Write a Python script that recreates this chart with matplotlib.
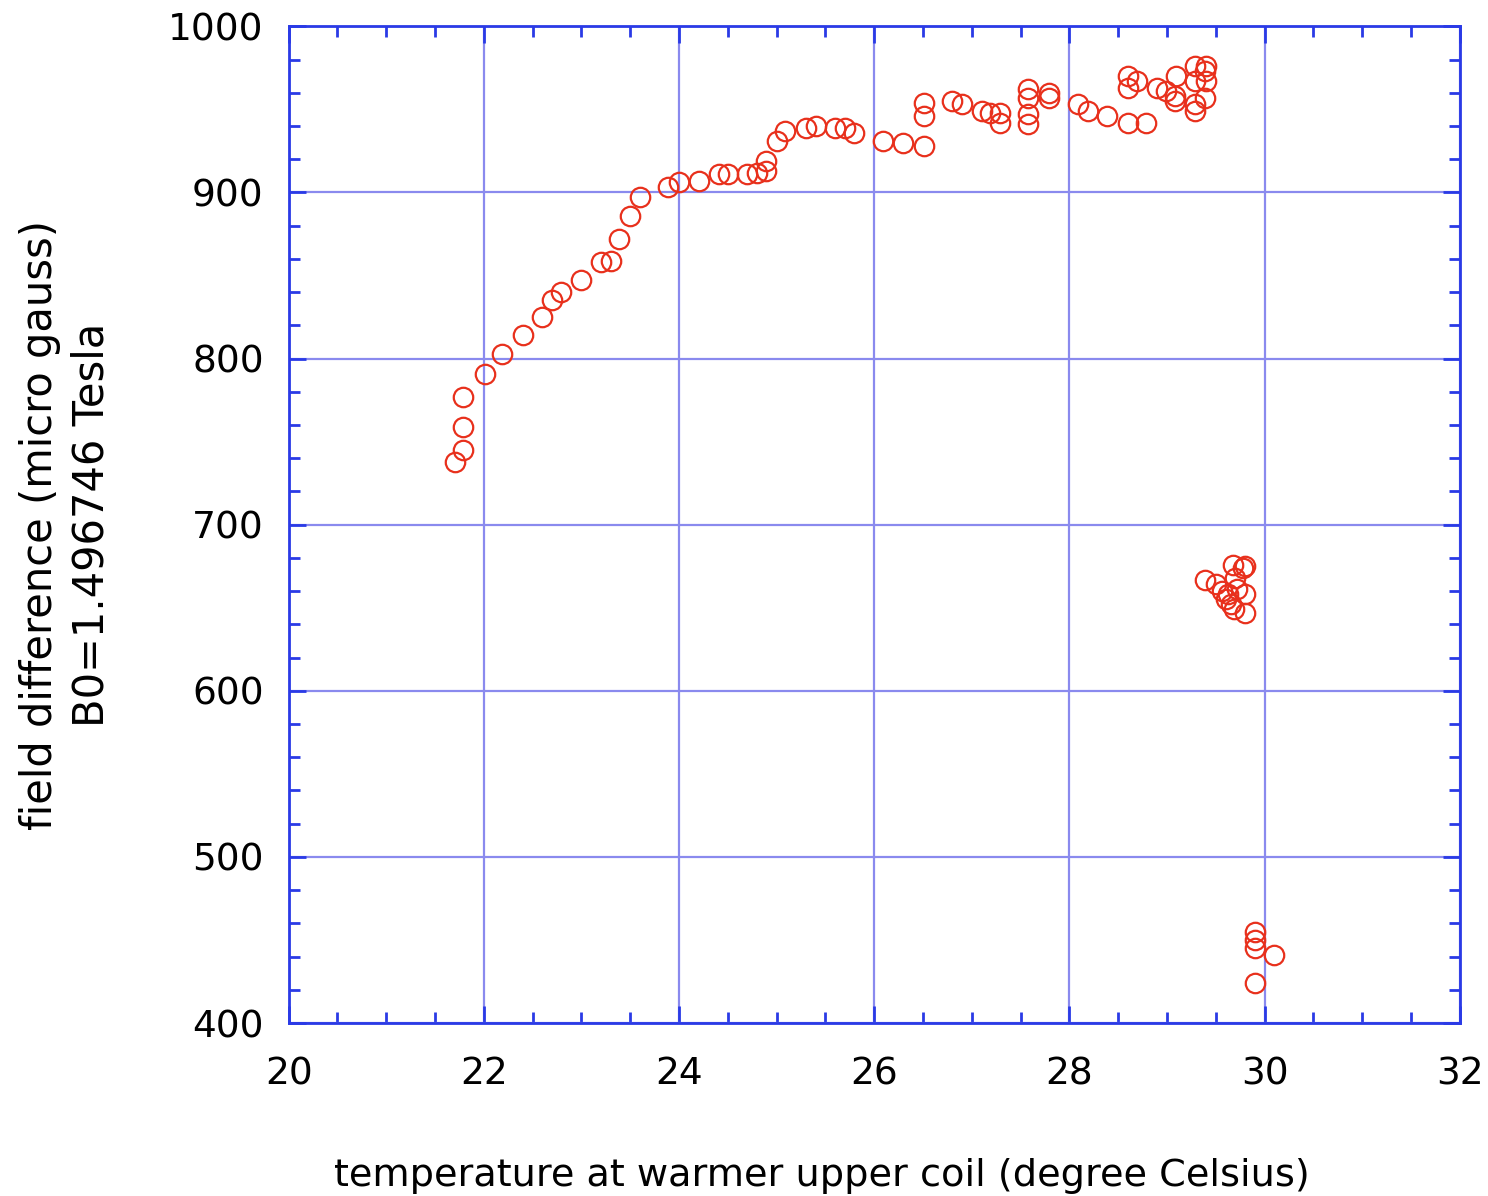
import numpy as np
import matplotlib.pyplot as plt
from matplotlib.ticker import MultipleLocator

# temperature (deg C) and field difference (micro gauss)
temp = [21.70, 21.79, 21.79, 21.79, 22.01, 22.19, 22.40, 22.60, 22.70, 22.79,
        23.00, 23.20, 23.30, 23.39, 23.50, 23.60, 23.89, 24.00, 24.20, 24.41,
        24.50, 24.70, 24.80, 24.89, 24.89, 25.00, 25.09, 25.30, 25.40, 25.60,
        25.70, 25.79, 26.09, 26.29, 26.51, 26.51, 26.51, 26.80, 26.90, 27.10,
        27.19, 27.29, 27.29, 27.58, 27.58, 27.58, 27.58, 27.79, 27.79, 28.09,
        28.19, 28.39, 28.60, 28.79, 28.60, 28.60, 28.69, 28.90, 28.99, 29.08,
        29.08, 29.09, 29.29, 29.29, 29.29, 29.29, 29.39, 29.39, 29.40, 29.40,
        29.39, 29.50, 29.56, 29.60, 29.66, 29.69, 29.68, 29.78, 29.80, 29.80,
        29.80, 29.72, 29.70, 29.63,
        29.90, 29.90, 29.90, 30.10, 29.90]
field = [738, 745, 759, 777, 791, 803, 814, 825, 835, 840,
         847, 858, 859, 872, 886, 897, 903, 906, 907, 911,
         911, 911, 912, 913, 919, 931, 937, 939, 940, 939,
         939, 936, 931, 930, 928, 946, 954, 955, 953, 949,
         948, 948, 942, 941, 947, 957, 962, 957, 960, 953,
         949, 946, 942, 942, 963, 970, 967, 963, 961, 955,
         958, 970, 949, 953, 967, 976, 973, 957, 967, 976,
         667, 664, 660, 655, 652, 649, 676, 674, 675, 658,
         647, 661, 668, 658,
         455, 450, 445, 441, 424]

fig = plt.figure(figsize=(14.88, 11.96), dpi=100)
ax = fig.add_axes([0.194, 0.1446, 0.787, 0.8334])

ax.plot(temp, field, linestyle="none", marker="o", markersize=14,
        markerfacecolor="none", markeredgecolor="#e8301c", markeredgewidth=1.6)

ax.set_xlim(20, 32)
ax.set_ylim(400, 1000)
ax.xaxis.set_major_locator(MultipleLocator(2))
ax.xaxis.set_minor_locator(MultipleLocator(0.5))
ax.yaxis.set_major_locator(MultipleLocator(100))
ax.yaxis.set_minor_locator(MultipleLocator(20))
ax.grid(True, which="major", color="#8a8aee", linewidth=1.6)
ax.set_axisbelow(True)

blue = "#2a3ae6"
for s in ax.spines.values():
    s.set_color(blue)
    s.set_linewidth(2)
ax.tick_params(which="both", direction="in", top=True, right=True, color=blue,
               width=2, labelsize=27)
ax.tick_params(axis="x", pad=24)
ax.tick_params(axis="y", pad=18)
ax.tick_params(which="major", length=12)
ax.tick_params(which="minor", length=8)

ax.set_xlabel("temperature at warmer upper coil (degree Celsius)", fontsize=27.5)
ax.xaxis.set_label_coords(0.455, -0.135)
ax.set_ylabel("field difference (micro gauss)\nB0=1.496746 Tesla", fontsize=30,
              labelpad=40, linespacing=1.3)

plt.savefig("out.png", dpi=100)
